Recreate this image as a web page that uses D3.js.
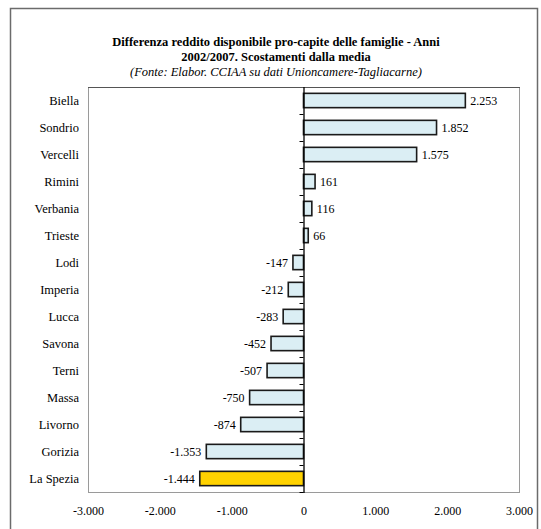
<!DOCTYPE html>
<html>
<head>
<meta charset="utf-8">
<script src="https://cdn.jsdelivr.net/npm/d3@7"></script>
<style>
  html, body { margin: 0; padding: 0; background: #fff; }
  svg { display: block; }
</style>
</head>
<body>
<svg id="chart" width="541" height="529"></svg>
<script>
// Provinces and their gap from the average disposable income per head (euro)
const provinces = ["Biella", "Sondrio", "Vercelli", "Rimini", "Verbania", "Trieste", "Lodi",
  "Imperia", "Lucca", "Savona", "Terni", "Massa", "Livorno", "Gorizia", "La Spezia"];
const gaps = [2253, 1852, 1575, 161, 116, 66, -147, -212, -283, -452, -507, -750, -874, -1353, -1444];
const highlighted = ["La Spezia"];
const xTicks = [-3000, -2000, -1000, 0, 1000, 2000, 3000];

const titleLines = [
  "Differenza reddito disponibile pro-capite delle famiglie - Anni",
  "2002/2007. Scostamenti dalla media"
];
const sourceLine = "(Fonte: Elabor. CCIAA su dati Unioncamere-Tagliacarne)";

const FONT = "'Liberation Serif', 'Times New Roman', 'DejaVu Serif', serif";
const data = provinces.map((p, i) => ({ name: p, value: gaps[i] }));

const svg = d3.select("#chart").attr("font-family", FONT);
const plot = { left: 88, right: 519, top: 87, bottom: 492 };

// Italian number format: dot as thousands separator, plain hyphen for minus
const itFmt = d3.formatLocale({ decimal: ",", thousands: ".", grouping: [3], currency: ["€", ""], minus: "-" }).format(",d");

// Outer frame
svg.append("rect")
  .attr("x", 10.5).attr("y", 8.5)
  .attr("width", 527).attr("height", 540)
  .attr("fill", "none").attr("stroke", "#6b6b6b").attr("stroke-width", 1.5);

// Title
const title = svg.append("g").attr("text-anchor", "middle");
titleLines.forEach((t, i) => {
  title.append("text")
    .attr("x", 276).attr("y", 46 + i * 15)
    .attr("font-family", FONT)
    .attr("font-size", 12.5).attr("font-weight", "bold")
    .text(t);
});
title.append("text")
  .attr("x", 276).attr("y", 76)
  .attr("font-family", FONT)
  .attr("font-size", 12.5).attr("font-style", "italic")
  .text(sourceLine);

const x = d3.scaleLinear().domain([-3000, 3000]).range([plot.left, plot.right]);
const y = d3.scaleBand().domain(provinces).range([plot.top, plot.bottom]).paddingInner(0.47).paddingOuter(0.235);
const band = d3.scaleBand().domain(provinces).range([plot.top, plot.bottom]);

// Plot area border
svg.append("rect")
  .attr("x", plot.left + 0.5).attr("y", plot.top + 0.5)
  .attr("width", plot.right - plot.left).attr("height", plot.bottom - plot.top)
  .attr("fill", "none").attr("stroke", "#9a9a9a").attr("stroke-width", 1);
svg.append("line")
  .attr("x1", plot.left).attr("x2", plot.right + 1)
  .attr("y1", plot.top + 0.5).attr("y2", plot.top + 0.5)
  .attr("stroke", "#555").attr("stroke-width", 1);

// Bars
svg.append("g").selectAll("rect")
  .data(data)
  .join("rect")
  .attr("x", d => Math.min(x(0), x(d.value)))
  .attr("y", d => y(d.name))
  .attr("width", d => Math.abs(x(d.value) - x(0)))
  .attr("height", y.bandwidth())
  .attr("fill", d => highlighted.includes(d.name) ? "#ffd200" : "#dbeef4")
  .attr("stroke", "#1a1a1a").attr("stroke-width", 1.6);

// Value labels
svg.append("g").selectAll("text")
  .data(data)
  .join("text")
  .attr("x", d => d.value >= 0 ? x(d.value) + 5 : x(d.value) - 5)
  .attr("y", d => y(d.name) + y.bandwidth() / 2)
  .attr("dy", "0.35em")
  .attr("text-anchor", d => d.value >= 0 ? "start" : "end")
  .attr("font-family", FONT)
  .attr("font-size", 12)
  .text(d => itFmt(d.value));

// Zero axis with tick marks between categories
const zeroAxis = svg.append("g");
zeroAxis.append("line")
  .attr("x1", x(0) + 0.5).attr("x2", x(0) + 0.5)
  .attr("y1", plot.top).attr("y2", plot.bottom + 1)
  .attr("stroke", "#000").attr("stroke-width", 1.3);
zeroAxis.selectAll("line.tick")
  .data(provinces)
  .join("line")
  .attr("class", "tick")
  .attr("x1", x(0) - 4).attr("x2", x(0))
  .attr("y1", d => band(d) + band.bandwidth() + 0.5)
  .attr("y2", d => band(d) + band.bandwidth() + 0.5)
  .attr("stroke", "#000").attr("stroke-width", 1);

// Category labels
svg.append("g").selectAll("text")
  .data(provinces)
  .join("text")
  .attr("x", 79)
  .attr("y", d => band(d) + band.bandwidth() / 2)
  .attr("dy", "0.35em")
  .attr("text-anchor", "end")
  .attr("font-family", FONT)
  .attr("font-size", 12.5)
  .text(d => d);

// X axis tick labels
const xAxis = d3.axisBottom(x).tickValues(xTicks).tickFormat(itFmt).tickSize(0).tickPadding(0);
const gx = svg.append("g").attr("transform", `translate(0, ${plot.bottom + 14})`).call(xAxis);
gx.attr("font-family", FONT);
gx.select(".domain").remove();
gx.selectAll("text")
  .attr("font-size", 12)
  .attr("dy", "0.71em");
</script>
</body>
</html>
